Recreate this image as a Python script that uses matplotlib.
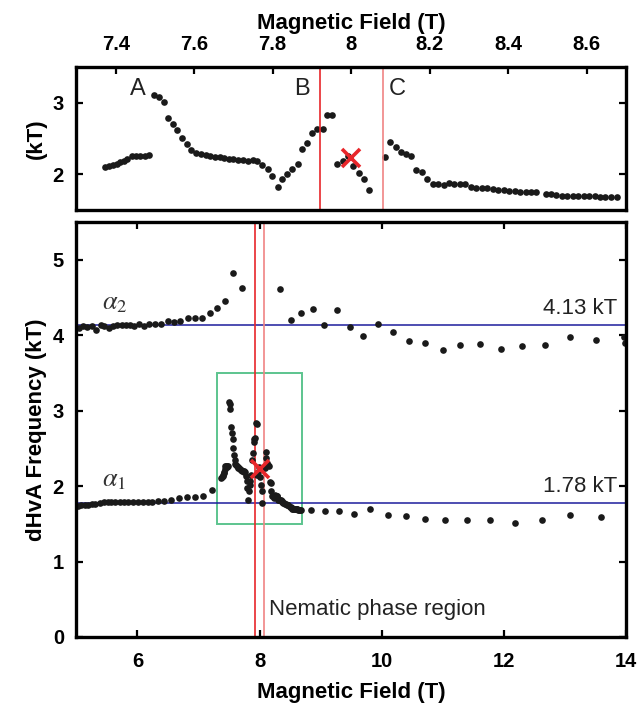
import numpy as np
import matplotlib
matplotlib.use("Agg")
import matplotlib.pyplot as plt
from matplotlib.patches import Rectangle

plt.rcParams['font.family'] = ['Liberation Sans', 'DejaVu Sans']
plt.rcParams['mathtext.fontset'] = 'stix'

# alpha1 branch inside the nematic window (zoomed panel), kT vs T
zoom_B = [7.373, 7.382, 7.393, 7.403, 7.412, 7.420, 7.430, 7.441, 7.452, 7.463, 7.474, 7.486,
          7.498, 7.510, 7.523, 7.533, 7.546, 7.557, 7.570, 7.581, 7.593, 7.605, 7.617, 7.629,
          7.641, 7.653, 7.665, 7.677, 7.688, 7.700, 7.712, 7.724, 7.737, 7.750, 7.761, 7.772,
          7.787, 7.799, 7.813, 7.825, 7.837, 7.850, 7.864, 7.876, 7.888, 7.901, 7.914, 7.927,
          7.939, 7.952, 7.964, 7.978, 7.992, 8.005, 8.019, 8.032, 8.045,
          8.086, 8.099, 8.113, 8.126, 8.139, 8.153, 8.166, 8.181, 8.194, 8.208, 8.221, 8.236,
          8.249, 8.263, 8.278, 8.291, 8.306, 8.319, 8.333, 8.347, 8.362, 8.375, 8.389, 8.403,
          8.417, 8.431, 8.445, 8.459, 8.472, 8.496, 8.509, 8.523, 8.537, 8.551, 8.565, 8.578,
          8.592, 8.606, 8.620, 8.634, 8.647, 8.663, 8.678]
zoom_F = [2.106, 2.115, 2.134, 2.148, 2.171, 2.190, 2.220, 2.260, 2.260, 2.250, 2.260, 2.265,
          3.113, 3.085, 3.015, 2.782, 2.703, 2.619, 2.502, 2.418, 2.339, 2.293, 2.279, 2.265,
          2.251, 2.246, 2.237, 2.227, 2.218, 2.213, 2.204, 2.195, 2.181, 2.195, 2.190, 2.129,
          2.073, 1.980, 1.822, 1.938, 2.008, 2.073, 2.143, 2.349, 2.437, 2.581, 2.628, 2.633,
          2.833, 2.829, 2.143, 2.181, 2.255, 2.115, 2.013, 1.938, 1.780,
          2.246, 2.456, 2.376, 2.311, 2.283, 2.260, 2.059, 2.036, 1.938, 1.868, 1.868, 1.845,
          1.878, 1.868, 1.864, 1.864, 1.822, 1.812, 1.812, 1.812, 1.798, 1.784, 1.775, 1.770,
          1.766, 1.756, 1.752, 1.752, 1.752, 1.724, 1.724, 1.705, 1.700, 1.696, 1.696, 1.691,
          1.691, 1.691, 1.691, 1.687, 1.687, 1.687, 1.687]

# alpha1 outside the window
a1_lo_B = [5.03, 5.08, 5.14, 5.19, 5.26, 5.31, 5.38, 5.45, 5.52, 5.57, 5.64, 5.71, 5.78, 5.84,
           5.92, 6.01, 6.09, 6.17, 6.23, 6.33, 6.43, 6.55, 6.68, 6.81, 6.94, 7.08, 7.22]
a1_lo_F = [1.739, 1.744, 1.744, 1.748, 1.757, 1.762, 1.775, 1.792, 1.784, 1.784, 1.788, 1.788,
           1.792, 1.792, 1.792, 1.792, 1.792, 1.792, 1.792, 1.800, 1.805, 1.815, 1.841, 1.858,
           1.858, 1.868, 1.943]
a1_hi_B = [8.85, 9.07, 9.30, 9.55, 9.81, 10.10, 10.40, 10.71, 11.04, 11.40, 11.78, 12.18,
           12.62, 13.08, 13.59]
a1_hi_F = [1.68, 1.665, 1.67, 1.63, 1.69, 1.62, 1.60, 1.565, 1.545, 1.55, 1.545, 1.515,
           1.55, 1.615, 1.585]

# alpha2 branch
a2_B = [5.05, 5.11, 5.18, 5.26, 5.32, 5.40, 5.46, 5.53, 5.60, 5.67, 5.75, 5.81, 5.88, 5.94,
        6.02, 6.11, 6.19, 6.29, 6.39, 6.50, 6.60, 6.70, 6.82, 6.94, 7.05, 7.18, 7.30, 7.43,
        7.56, 7.71, 8.33, 8.51, 8.68, 8.87, 9.06, 9.27, 9.48, 9.70, 9.94, 10.18, 10.44, 10.71,
        11.00, 11.29, 11.61, 11.95, 12.30, 12.68, 13.09, 13.51, 13.97, 13.98]
a2_F = [4.097, 4.119, 4.110, 4.123, 4.062, 4.137, 4.119, 4.097, 4.128, 4.141, 4.141, 4.137,
        4.141, 4.123, 4.150, 4.115, 4.146, 4.146, 4.150, 4.185, 4.168, 4.190, 4.225, 4.229,
        4.225, 4.295, 4.354, 4.454, 4.83, 4.623, 4.609, 4.199, 4.30, 4.35, 4.14, 4.33, 4.11,
        3.995, 4.15, 4.04, 3.925, 3.90, 3.805, 3.87, 3.885, 3.82, 3.855, 3.87, 3.97, 3.93,
        3.97, 3.90]

a1_mean = 1.78
a2_mean = 4.13
nematic = [7.92, 8.08]
cross = (8.0, 2.23)
window = (7.3, 8.7, 1.5, 3.5)

RED1 = '#e8262a'
RED2 = '#f08484'
BLUE = '#1c1c9c'
GREEN = '#5cc48e'
dot = dict(ls='none', marker='o', ms=4.8, color='#1a1a1a', mec='none')


def style(ax):
    for s in ax.spines.values():
        s.set_linewidth(2.4)
    ax.tick_params(direction='in', length=5, width=1.6, top=True, right=True,
                   labelsize=14.5)
    for lab in ax.get_xticklabels() + ax.get_yticklabels():
        lab.set_fontweight('bold')


fig = plt.figure(figsize=(6.42, 7.11), dpi=100)

# ---- top (zoom) panel
ax1 = fig.add_axes([0.119, 0.7046, 0.856, 0.2012])
ax1.plot(zoom_B, zoom_F, **dot)
ax1.axvline(nematic[0], color=RED1, lw=1.2)
ax1.axvline(nematic[1], color=RED2, lw=1.2)
ax1.plot(*cross, marker='x', ms=13, mew=2.6, color=RED1, ls='none')
ax1.set_xlim(window[0], window[1])
ax1.set_ylim(window[2], window[3])
ax1.set_xticks([7.4, 7.6, 7.8, 8.0, 8.2, 8.4, 8.6])
ax1.set_xticklabels(['7.4', '7.6', '7.8', '8', '8.2', '8.4', '8.6'])
ax1.set_yticks([2, 3])
ax1.xaxis.tick_top()
ax1.xaxis.set_label_position('top')
ax1.set_xlabel('Magnetic Field (T)', fontsize=16, fontweight='bold', labelpad=5)
ax1.set_ylabel('(kT)', fontsize=16, fontweight='bold', labelpad=4)
for t, xv in zip(['A', 'B', 'C'], [7.456, 7.875, 8.117]):
    ax1.text(xv, 3.19, t, fontsize=17, ha='center', va='center', color='#222222')
style(ax1)
ax1.tick_params(axis='x', pad=9)
ax1.tick_params(axis='y', pad=9)

# ---- bottom (full) panel
ax2 = fig.add_axes([0.119, 0.1041, 0.856, 0.5837])
ax2.axhline(a2_mean, color=BLUE, lw=1.1)
ax2.axhline(a1_mean, color=BLUE, lw=1.1)
ax2.axvline(nematic[0], color=RED1, lw=1.2)
ax2.axvline(nematic[1], color=RED2, lw=1.2)
ax2.add_patch(Rectangle((window[0], window[2]), window[1] - window[0],
                        window[3] - window[2], fill=False, ec=GREEN, lw=1.4))
ax2.plot(a2_B, a2_F, **dot)
ax2.plot(a1_lo_B, a1_lo_F, **dot)
ax2.plot(zoom_B, zoom_F, **dot)
ax2.plot(a1_hi_B, a1_hi_F, **dot)
ax2.plot(*cross, marker='x', ms=13, mew=2.6, color=RED1, ls='none')
ax2.set_xlim(5, 14)
ax2.set_ylim(0, 5.5)
ax2.set_xticks([6, 8, 10, 12, 14])
ax2.set_yticks([0, 1, 2, 3, 4, 5])
ax2.set_xlabel('Magnetic Field (T)', fontsize=16, fontweight='bold', labelpad=8)
ax2.set_ylabel('dHvA Frequency (kT)', fontsize=16, fontweight='bold', labelpad=4)
ax2.text(13.85, a2_mean + 0.22, '4.13 kT', fontsize=16, ha='right', va='center',
         color='#222222')
ax2.text(13.85, a1_mean + 0.22, '1.78 kT', fontsize=16, ha='right', va='center',
         color='#222222')
ax2.text(5.62, a2_mean + 0.3, r'$\alpha_2$', fontsize=19, ha='center', va='center',
         color='#333333')
ax2.text(5.62, a1_mean + 0.3, r'$\alpha_1$', fontsize=19, ha='center', va='center',
         color='#333333')
ax2.text(8.15, 0.36, 'Nematic phase region', fontsize=16, ha='left', va='center',
         color='#222222')
style(ax2)
ax2.tick_params(axis='x', pad=11)
ax2.tick_params(axis='y', pad=9)

fig.savefig('out.png', dpi=100)
